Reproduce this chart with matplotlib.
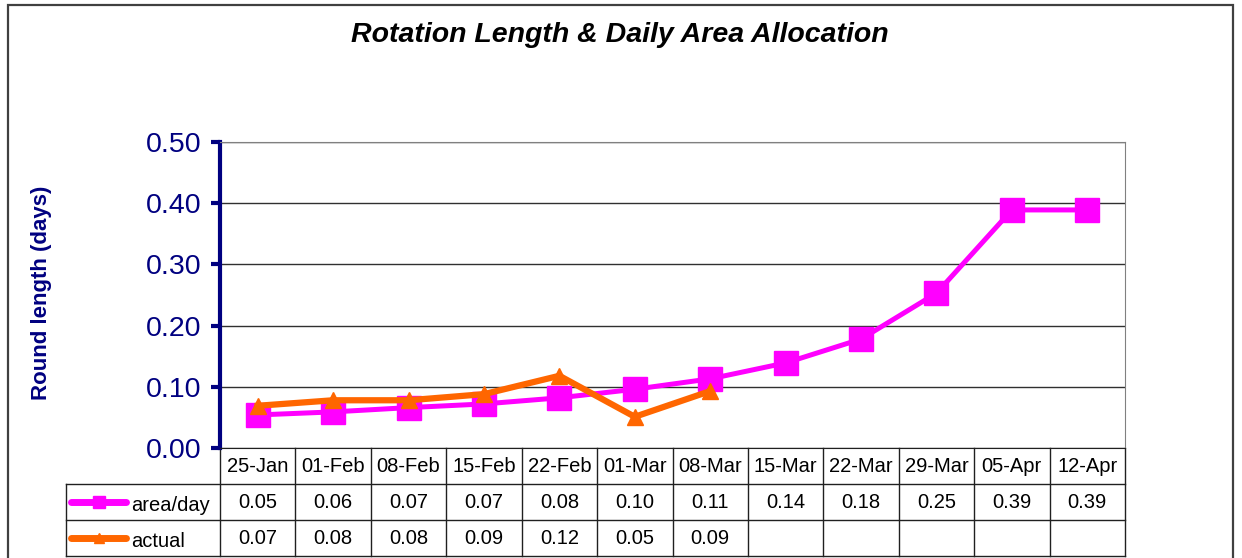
import numpy as np
import matplotlib
matplotlib.use("Agg")
import matplotlib.pyplot as plt
from matplotlib.lines import Line2D
from matplotlib.patches import Rectangle

plt.rcParams['font.family'] = ['Liberation Sans', 'DejaVu Sans']

# -----------------------------
# Data
# -----------------------------
dates = ['25-Jan', '01-Feb', '08-Feb', '15-Feb', '22-Feb', '01-Mar',
         '08-Mar', '15-Mar', '22-Mar', '29-Mar', '05-Apr', '12-Apr']
area_per_day = [0.054, 0.059, 0.066, 0.072, 0.082, 0.096,
                0.113, 0.139, 0.178, 0.253, 0.389, 0.389]
actual = [0.069, 0.078, 0.078, 0.088, 0.118, 0.051, 0.093,
          np.nan, np.nan, np.nan, np.nan, np.nan]
series_names = ['area/day', 'actual']

navy = '#000080'
pink = '#FF00FF'
orange = '#FF6600'

W, H = 1242, 558
fig = plt.figure(figsize=(W / 100, H / 100), dpi=100)
fig.patch.set_facecolor('white')

# outer chart border
fig.patches.append(Rectangle((8 / W, -0.1), 1225 / W, 1.1 - 5 / H,
                             transform=fig.transFigure, fill=False,
                             edgecolor='#404040', lw=1.6))

ax = fig.add_axes([220 / W, 110 / H, 905 / W, 306 / H])
x = np.arange(len(dates))

ax.plot(x, area_per_day, color=pink, lw=3.6, marker='s', ms=17,
        mec=pink, mfc=pink, zorder=3)
ax.plot(x, actual, color=orange, lw=4.5, marker='^', ms=11,
        mec=orange, mfc=orange, zorder=4)

ax.set_xlim(-0.5, len(dates) - 0.5)
ax.set_ylim(0, 0.5)
ax.set_yticks(np.arange(0, 0.51, 0.1))
ax.set_yticklabels([f"{v:.2f}" for v in np.arange(0, 0.51, 0.1)])
ax.yaxis.grid(True, color='#303030', lw=1)
ax.set_axisbelow(True)
ax.set_xticks([])

ax.spines['left'].set_color(navy)
ax.spines['left'].set_linewidth(3)
ax.spines['right'].set_color('#808080')
ax.spines['top'].set_color('#808080')
ax.spines['bottom'].set_color('#202020')
ax.tick_params(axis='y', colors=navy, labelsize=20.5, direction='out',
               length=6.5, width=3, pad=7)

# -----------------------------
# Data table under the axis
# -----------------------------
trans = ax.get_xaxis_transform()
rh = 36 / 306
unit = 905 / len(dates)
left_edge = -0.5 - (220 - 66) / unit
right_edge = len(dates) - 0.5
lc = '#202020'
tfs = 14.5

for k in range(len(dates) + 1):
    ax.add_line(Line2D([k - 0.5, k - 0.5], [0, -3 * rh], transform=trans,
                       color=lc, lw=1, clip_on=False))
for r in (1, 2, 3):
    ax.add_line(Line2D([left_edge, right_edge], [-r * rh, -r * rh],
                       transform=trans, color=lc, lw=1, clip_on=False))
ax.add_line(Line2D([left_edge, left_edge], [-rh, -3 * rh], transform=trans,
                   color=lc, lw=1, clip_on=False))

for i, d in enumerate(dates):
    ax.text(i, -0.5 * rh, d, transform=trans, ha='center', va='center',
            fontsize=tfs, clip_on=False)
for row, (vals, name, col, mk, ms) in enumerate(
        [(area_per_day, series_names[0], pink, 's', 8),
         (actual, series_names[1], orange, '^', 7)]):
    yc = -(1.5 + row) * rh
    for i, v in enumerate(vals):
        if not np.isnan(v):
            ax.text(i, yc, f"{v:.2f}", transform=trans, ha='center',
                    va='center', fontsize=tfs, clip_on=False)
    # legend key
    x0 = -0.5 - (220 - 71) / unit
    x1 = -0.5 - (220 - 126) / unit
    ax.add_line(Line2D([x0, x1], [yc, yc], transform=trans, color=col,
                       lw=5, solid_capstyle='round', clip_on=False))
    ax.add_line(Line2D([(x0 + x1) / 2], [yc], transform=trans, color=col,
                       marker=mk, ms=ms, mec=col, mfc=col, clip_on=False))
    ax.text(-0.5 - (220 - 131) / unit, yc - 0.012, name, transform=trans,
            ha='left', va='center', fontsize=tfs, clip_on=False)

fig.text(620 / W, 1 - 35 / H, 'Rotation Length & Daily Area Allocation',
         ha='center', va='center', fontsize=20.5, fontweight='bold',
         fontstyle='italic')
fig.text(42 / W, 1 - 293 / H, 'Round length (days)', rotation=90,
         ha='center', va='center', fontsize=16, fontweight='bold',
         color=navy)

fig.savefig('out.png', dpi=100)
